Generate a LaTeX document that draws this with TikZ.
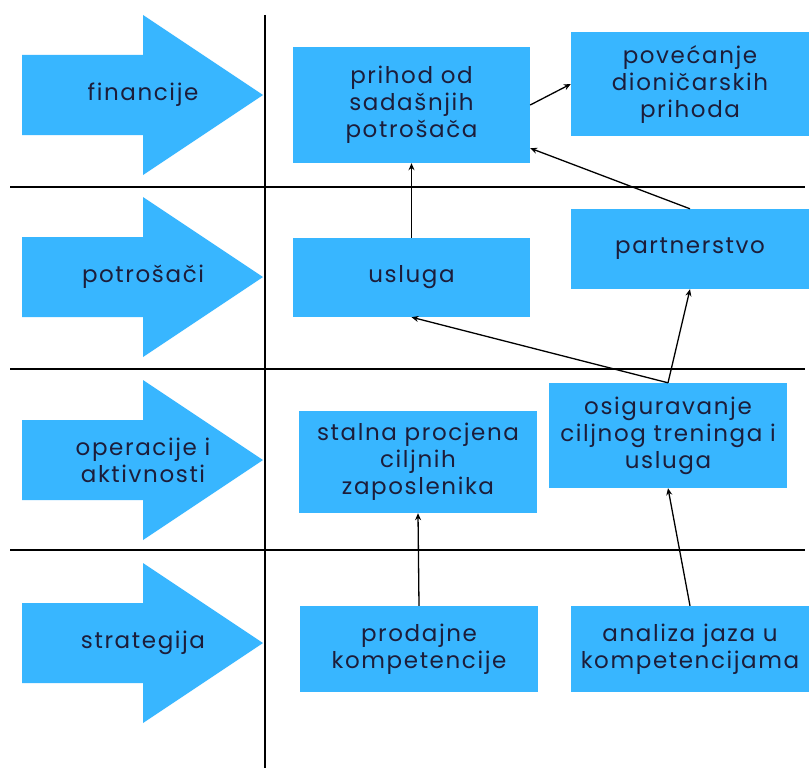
\documentclass[tikz,border=0pt]{standalone}
\usepackage{fontspec}
\setmainfont{Poppins}[LetterSpace=7]
\usetikzlibrary{arrows.meta}

\definecolor{boxblue}{HTML}{38B6FF}
\definecolor{ink}{HTML}{1C1D3A}

\tikzset{
  box/.style={fill=boxblue, text=ink, align=center, inner sep=0pt, font=\fontsize{23}{27}\selectfont},
  rowlabel/.style={text=ink, align=center, inner sep=0pt, font=\fontsize{23}{27}\selectfont},
  link/.style={-{Stealth[length=7pt,width=6pt]}, line width=1.3pt},
  rule/.style={line width=1.3pt}
}

\begin{document}
\begin{tikzpicture}[x=1pt,y=-1pt]
  \useasboundingbox (0,0) rectangle (809,768);
  \fill[white] (0,0) rectangle (809,768);

  % left arrows
  \foreach \y/\name/\txt in {95/fin/financije, 277/pot/potrošači, 460/ops/{operacije i\\aktivnosti}, 643/str/strategija}{
    \fill[boxblue] (22,\y-40) -- (143,\y-40) -- (143,\y-80) -- (263,\y) -- (143,\y+80) -- (143,\y+40) -- (22,\y+40) -- cycle;
    \node[rowlabel] (\name) at (143,\y) {\txt};
  }

  % grid
  \draw[rule] (265,15) -- (265,768);
  \foreach \y in {187,369,550}
    \draw[rule] (10,\y) -- (805,\y);

  % boxes
  \node[box, minimum width=237, minimum height=116] (prihod) at (411.5,105) {prihod od\\sadašnjih\\potrošača};
  \node[box, minimum width=238, minimum height=104] (povecanje) at (690,84) {povećanje\\dioničarskih\\prihoda};
  \node[box, minimum width=237, minimum height=79] (usluga) at (411.5,277.5) {usluga};
  \node[box, minimum width=238, minimum height=80] (partner) at (690,249) {partnerstvo};
  \node[box, minimum width=238, minimum height=102] (stalna) at (418,462) {stalna procjena\\ciljnih\\zaposlenika};
  \node[box, minimum width=238, minimum height=105] (osig) at (668,435.5) {osiguravanje\\ciljnog treninga i\\usluga};
  \node[box, minimum width=238, minimum height=86] (prodajne) at (419,649) {prodajne\\kompetencije};
  \node[box, minimum width=238, minimum height=86] (analiza) at (690,649) {analiza jaza u\\kompetencijama};

  % links
  \draw[link] (prihod.east) -- (povecanje.west);
  \draw[link] (usluga.north) -- (prihod.south);
  \draw[link] (partner.north) -- (prihod.-20);
  \draw[link] (osig.north) -- (usluga.south);
  \draw[link] (osig.north) -- (partner.south);
  \draw[link] (prodajne.north) -- (stalna.south);
  \draw[link] (analiza.north) -- (osig.south);
\end{tikzpicture}
\end{document}
